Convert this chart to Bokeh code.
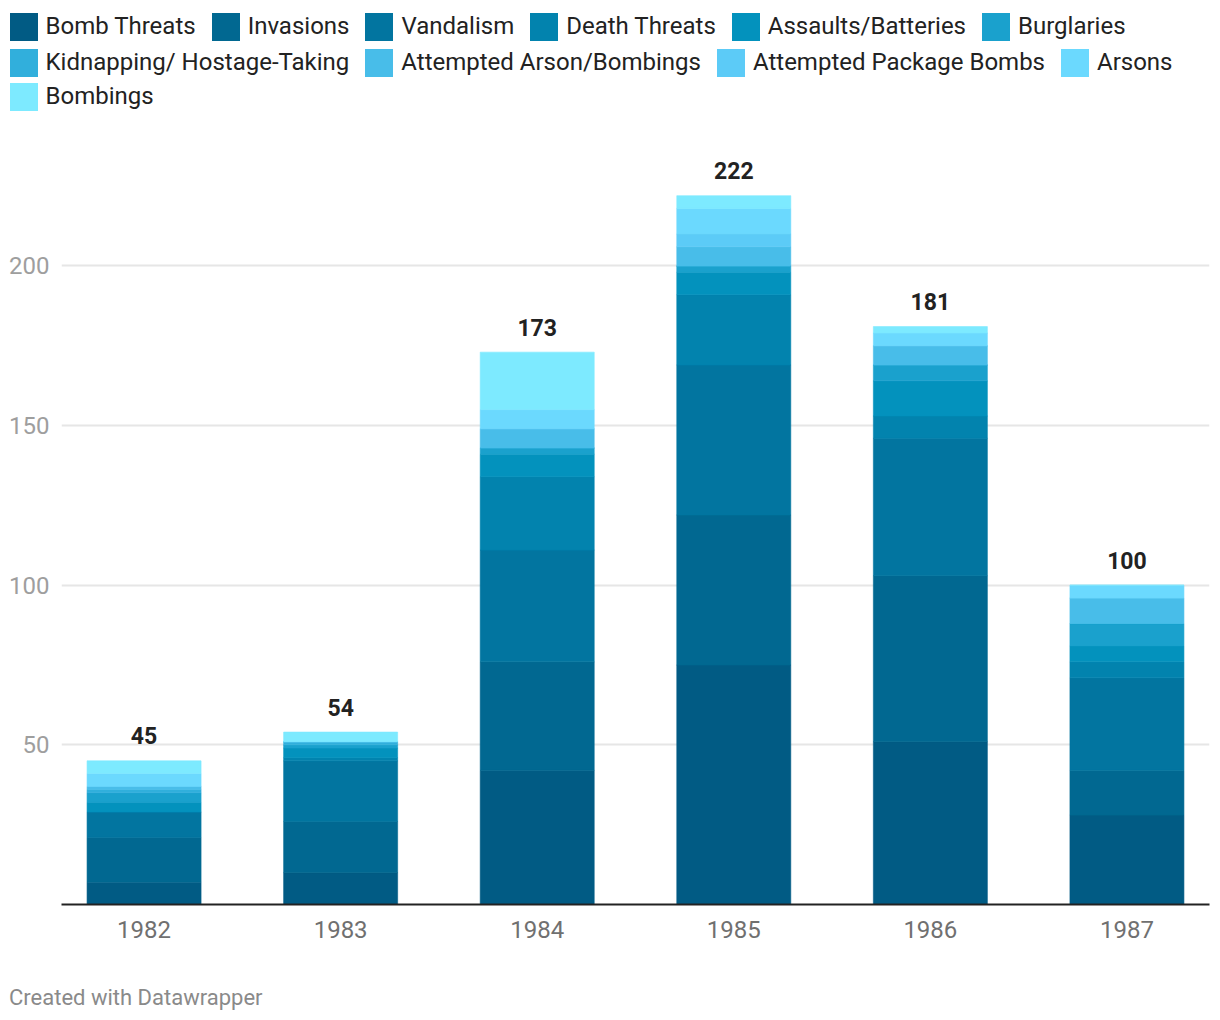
from bokeh.plotting import figure
from bokeh.models import (Range1d, FixedTicker, Legend, LegendItem, ColumnDataSource, Div)
from bokeh.layouts import column
from bokeh.embed import file_html
from bokeh.resources import INLINE
from bokeh.core.properties import value

years = ["1982", "1983", "1984", "1985", "1986", "1987"]
categories = ["Bomb Threats", "Invasions", "Vandalism", "Death Threats",
              "Assaults/Batteries", "Burglaries", "Kidnapping/ Hostage-Taking",
              "Attempted Arson/Bombings", "Attempted Package Bombs", "Arsons", "Bombings"]
bomb_threats = [7, 10, 42, 75, 51, 28]
invasions = [14, 16, 34, 47, 52, 14]
vandalism = [8, 19, 35, 47, 43, 29]
death_threats = [0, 1, 23, 22, 7, 5]
assaults = [3, 3, 7, 7, 11, 5]
burglaries = [3, 1, 2, 2, 5, 7]
kidnapping = [1, 1, 0, 0, 0, 0]
attempted_arson = [1, 0, 6, 6, 6, 8]
package_bombs = [0, 0, 0, 4, 0, 0]
arsons = [4, 0, 6, 8, 4, 4]
bombings = [4, 3, 18, 4, 2, 0]
y_ticks = [50, 100, 150, 200]

colors = ["#015b84", "#016891", "#0275a0", "#0283ae", "#0392bd", "#1aa1cd",
          "#31afdc", "#48bde9", "#5ccbf7", "#6bd9fe", "#7deaff"]

series = [bomb_threats, invasions, vandalism, death_threats, assaults, burglaries,
          kidnapping, attempted_arson, package_bombs, arsons, bombings]
totals = [sum(s[i] for s in series) for i in range(len(years))]

data = {"x": list(range(len(years))), "total": totals, "label": [str(t) for t in totals]}
for name, s in zip(categories, series):
    data[name] = s
source = ColumnDataSource(data)

FONT = "Roboto"

# ---------- legend strip (own figure so it can sit left of the plot frame) ----------
lg = figure(width=1212, height=116, output_backend="svg", toolbar_location=None,
            x_range=Range1d(0, 1), y_range=Range1d(0, 1),
            x_axis_location=None, y_axis_location=None,
            min_border_left=0, min_border_right=0, min_border_top=0, min_border_bottom=0)
lg.frame_align = False
lg.grid.visible = False
lg.outline_line_color = None
# legend swatches: one bar per category, placed outside the visible range
lg_renderers = {c: lg.vbar(x=[-10], top=[0], width=0.5, color=col, line_color=None)
                for c, col in zip(categories, colors)}

rows = [categories[0:6], categories[6:10], categories[10:11]]
row_offsets = [72.5, 36.5, 2.5]
for row, vy in zip(rows, row_offsets):
    leg = Legend(items=[LegendItem(label=c, renderers=[lg_renderers[c]]) for c in row],
                 orientation="horizontal", location=(5.5, vy),
                 glyph_width=35, glyph_height=35, label_height=35,
                 label_standoff=5, spacing=12, padding=0, margin=0,
                 label_text_font=FONT, label_text_font_size="24px",
                 label_text_color="#222222", border_line_color=None,
                 background_fill_alpha=0)
    lg.add_layout(leg, "center")

# ---------- main chart ----------
p = figure(width=1212, height=834, output_backend="svg", toolbar_location=None,
           x_range=Range1d(-0.42, 5.42), y_range=Range1d(0, 246.8),
           min_border_left=61, min_border_right=3, min_border_top=0, min_border_bottom=46)
p.frame_align = False
p.outline_line_color = None
p.background_fill_color = "white"
p.border_fill_color = "white"

p.vbar_stack(categories, x="x", width=0.58, source=source,
             color=colors, line_width=0.6)

p.text(x="x", y="total", text="label", source=source, text_align="center",
       text_baseline="alphabetic", y_offset=-25, text_font=value(FONT),
       text_font_size="23px", text_font_style="bold", text_color="#222222")

p.xaxis.ticker = FixedTicker(ticks=list(range(len(years))))
p.xaxis.major_label_overrides = {i: y for i, y in enumerate(years)}
p.xaxis.major_tick_line_color = None
p.xaxis.major_tick_out = 0
p.xaxis.major_tick_in = 0
p.xaxis.minor_tick_line_color = None
p.xaxis.axis_line_color = "#222222"
p.xaxis.axis_line_width = 2
p.xaxis.major_label_text_font = FONT
p.xaxis.major_label_text_font_size = "24px"
p.xaxis.major_label_text_color = "#707070"
p.xaxis.major_label_standoff = 16

p.yaxis.ticker = FixedTicker(ticks=y_ticks)
p.yaxis.major_tick_line_color = None
p.yaxis.major_tick_out = 0
p.yaxis.major_tick_in = 0
p.yaxis.minor_tick_line_color = None
p.yaxis.axis_line_color = None
p.yaxis.major_label_text_font = FONT
p.yaxis.major_label_text_font_size = "24px"
p.yaxis.major_label_text_color = "#9e9e9e"
p.yaxis.major_label_standoff = 12

p.xgrid.visible = False
p.ygrid.ticker = FixedTicker(ticks=y_ticks)
p.ygrid.grid_line_color = "#e6e6e6"
p.ygrid.grid_line_width = 2

footer = Div(text="Created with Datawrapper", width=1212, height=62,
             styles={"font-family": "Roboto", "font-size": "22px", "color": "#8a8a8a",
                     "padding-top": "30px", "padding-left": "4px", "line-height": "26px"})

layout = column(lg, p, footer, spacing=0)
open("out.html", "w").write(file_html(layout, INLINE))
